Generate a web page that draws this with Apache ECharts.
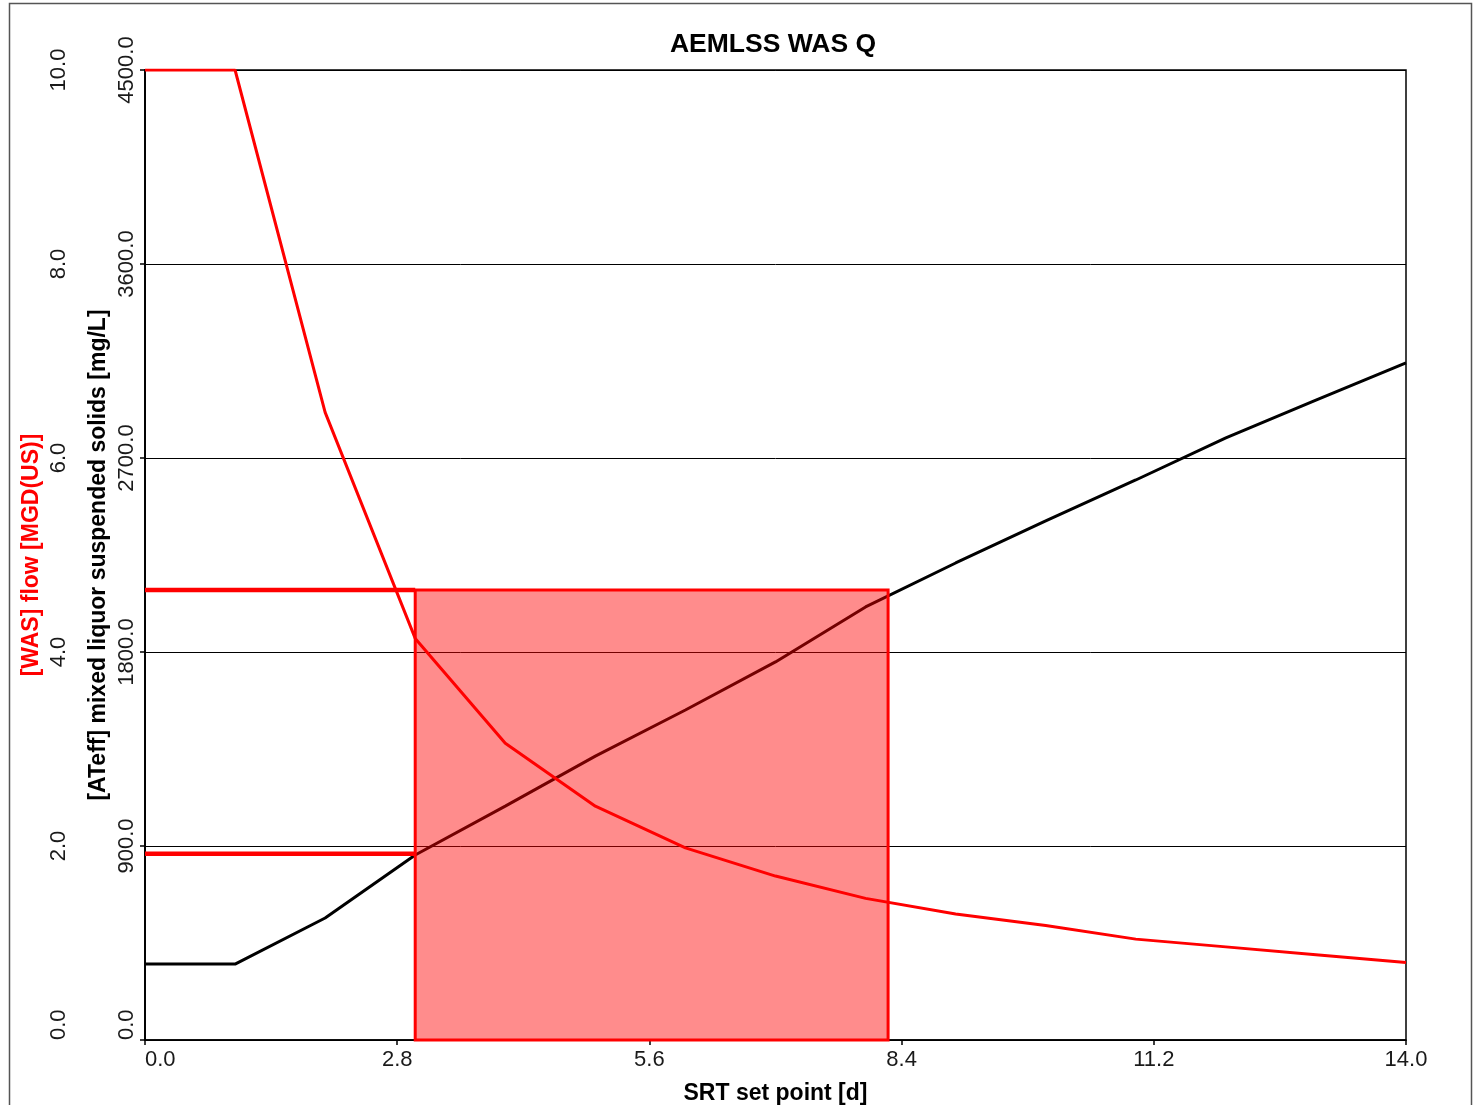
<!DOCTYPE html>
<html>
<head>
<meta charset="utf-8">
<title>AEMLSS WAS Q</title>
<script src="https://cdn.jsdelivr.net/npm/echarts@6/dist/echarts.min.js"></script>
<style>
  html, body { margin: 0; padding: 0; background: #fff; }
  #chart { width: 1478px; height: 1105px; }
</style>
</head>
<body>
<div id="chart"></div>
<script>
// SRT set point [d]
const srt = [0, 1, 2, 3, 4, 5, 6, 7, 8, 9, 10, 11, 12, 13, 14];
// [WAS] flow [MGD(US)]
const wasFlow = [10.0, 10.0, 6.47, 4.14, 3.06, 2.41, 1.98, 1.69, 1.46, 1.30, 1.18, 1.04, 0.96, 0.88, 0.80];
// [ATeff] mixed liquor suspended solids [mg/L]
const mlss = [352, 352, 566, 858, 1085, 1317, 1531, 1754, 2009, 2213, 2408, 2598, 2793, 2969, 3141];

// Highlighted operating window: SRT range and WAS flow ceiling
const windowSrt = [3.0, 8.25];
const windowFlowTop = 4.64;
// Reference WAS flow levels marked on the left
const refFlowLevels = [4.64, 1.92];
const refSrtEnd = 3.0;

// Axis ranges
const xRange = { min: 0, max: 14, interval: 2.8 };
const flowRange = { min: 0, max: 10, interval: 2 };
const mlssRange = { min: 0, max: 4500, interval: 900 };

const FONT = "'Liberation Sans', Arial, sans-serif";

const pair = (xs, ys) => xs.map((x, i) => [x, ys[i]]);

const refLineSeries = refFlowLevels.map((lvl, i) => ({
  name: 'ref' + i,
  type: 'line',
  yAxisIndex: 0,
  data: [[0, lvl], [refSrtEnd, lvl]],
  symbol: 'none',
  lineStyle: { color: '#ff0000', width: 4.5 },
  z: 5,
  silent: true
}));

const yLabel = {
  rotate: 90, fontFamily: FONT, fontSize: 22, color: '#1a1a1a', margin: 7,
  alignMinLabel: 'left',
  formatter: v => v.toFixed(1)
};

const chart = echarts.init(document.getElementById('chart'), null, { renderer: 'canvas' });

chart.setOption({
  backgroundColor: '#ffffff',
  animation: false,
  title: {
    text: 'AEMLSS WAS Q',
    left: 768,
    textAlign: 'center',
    top: 26,
    textStyle: { fontFamily: FONT, fontSize: 26.5, fontWeight: 'bold', color: '#000' }
  },
  graphic: [{
    type: 'rect',
    shape: { x: 9.5, y: 3.5, width: 1462, height: 1300 },
    style: { fill: null, stroke: '#555', lineWidth: 1.5 },
    silent: true,
    z: -1
  }],
  grid: {
    left: 145, right: 72, top: 70, bottom: 65,
    outerBoundsMode: 'none',
    containLabel: false,
    show: true, borderColor: '#000', borderWidth: 1.5, backgroundColor: 'transparent'
  },
  xAxis: {
    type: 'value',
    min: xRange.min, max: xRange.max, interval: xRange.interval,
    name: 'SRT set point [d]',
    nameLocation: 'middle',
    nameGap: 42,
    nameMoveOverlap: false,
    nameTextStyle: { fontFamily: FONT, fontSize: 23, fontWeight: 'bold', color: '#000' },
    axisLine: { show: true, lineStyle: { color: '#000', width: 1.5 } },
    axisTick: { show: true, length: 5, lineStyle: { color: '#000', width: 1.5 } },
    axisLabel: {
      fontFamily: FONT, fontSize: 22, color: '#1a1a1a', margin: 9,
      alignMinLabel: 'left',
      formatter: v => v.toFixed(1)
    },
    splitLine: { show: false }
  },
  yAxis: [{
    type: 'value',
    position: 'left',
    offset: 68,
    min: flowRange.min, max: flowRange.max, interval: flowRange.interval,
    name: '[WAS] flow [MGD(US)]',
    nameLocation: 'middle',
    nameGap: 34,
    nameMoveOverlap: false,
    nameTextStyle: { fontFamily: FONT, fontSize: 23, fontWeight: 'bold', color: '#ff0000' },
    axisLine: { show: true, lineStyle: { color: '#000', width: 1.5 } },
    axisTick: { show: true, length: 5, lineStyle: { color: '#000', width: 1.5 } },
    axisLabel: yLabel,
    splitLine: { show: false }
  }, {
    type: 'value',
    position: 'left',
    min: mlssRange.min, max: mlssRange.max, interval: mlssRange.interval,
    name: '[ATeff] mixed liquor suspended solids [mg/L]',
    nameLocation: 'middle',
    nameGap: 35,
    nameMoveOverlap: false,
    nameTextStyle: { fontFamily: FONT, fontSize: 23, fontWeight: 'bold', color: '#000' },
    axisLine: { show: true, lineStyle: { color: '#000', width: 1.5 } },
    axisTick: { show: true, length: 5, lineStyle: { color: '#000', width: 1.5 } },
    axisLabel: yLabel,
    splitLine: { show: true, lineStyle: { color: '#000', width: 1 } }
  }],
  series: [{
    name: 'MLSS',
    type: 'line',
    yAxisIndex: 1,
    data: pair(srt, mlss),
    symbol: 'none',
    lineStyle: { color: '#000', width: 3 },
    z: 2
  }, {
    name: 'WAS flow',
    type: 'line',
    yAxisIndex: 0,
    data: pair(srt, wasFlow),
    symbol: 'none',
    lineStyle: { color: '#ff0000', width: 3 },
    z: 4
  }, {
    name: 'window',
    type: 'custom',
    yAxisIndex: 0,
    data: [[windowSrt[0], windowSrt[1], windowFlowTop]],
    renderItem: (params, api) => {
      const p0 = api.coord([api.value(0), api.value(2)]);
      const p1 = api.coord([api.value(1), 0]);
      return {
        type: 'rect',
        shape: { x: p0[0], y: p0[1], width: p1[0] - p0[0], height: p1[1] - p0[1] },
        style: { fill: 'rgba(255,0,0,0.45)', stroke: '#ff0000', lineWidth: 3 }
      };
    },
    z: 3,
    silent: true
  }, ...refLineSeries]
});
</script>
</body>
</html>
